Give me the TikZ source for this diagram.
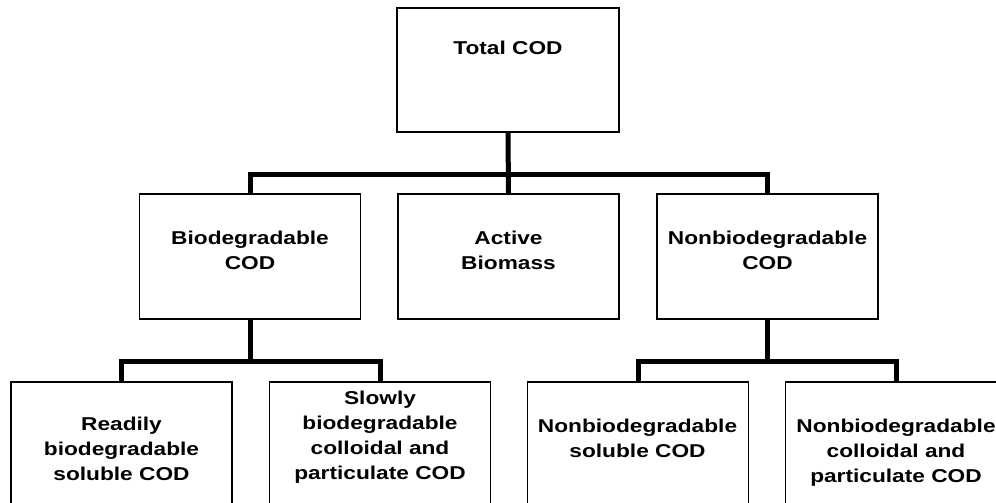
\documentclass[tikz,border=0pt]{standalone}
\usepackage{fontspec}
\setmainfont{Liberation Sans}[FakeStretch=1.22]
\begin{document}
\begin{tikzpicture}[x=1pt,y=-1pt,
  box/.style={draw=black,line width=1.6pt,rectangle,inner sep=0pt,minimum width=221pt},
  midbox/.style={box,minimum height=125pt},
  lowbox/.style={box,minimum height=148pt},
  label/.style={font=\bfseries\fontsize{18.6}{25}\selectfont,align=center,anchor=base,inner sep=0pt},
  link/.style={line width=5pt}]
\useasboundingbox (0,0) rectangle (996,503);
\clip (0,0) rectangle (996,503);

% boxes
\node[box,minimum width=222pt,minimum height=124pt] (totbox) at (508,70) {};
\node[midbox] (biobox) at (250,256.5) {};
\node[midbox] (actbox) at (508.5,256.5) {};
\node[midbox] (nonbox) at (767.5,256.5) {};
\node[lowbox] (rbsbox) at (121.5,456) {};
\node[lowbox] (sbcbox) at (380,456) {};
\node[lowbox] (nbsbox) at (638,456) {};
\node[lowbox] (nbcbox) at (896,456) {};

% labels (anchored on the baseline of their last line)
\node[label] (tot) at (508,55) {Total COD};
\node[label] (bio) at (250,269) {Biodegradable\\COD};
\node[label] (act) at (508.5,269) {Active\\Biomass};
\node[label] (non) at (767.5,269) {Nonbiodegradable\\COD};
\node[label] (rbs) at (121.5,480) {Readily\\biodegradable\\soluble COD};
\node[label] (sbc) at (380,479) {Slowly\\biodegradable\\colloidal and\\particulate COD};
\node[label] (nbs) at (637.5,457) {Nonbiodegradable\\soluble COD};
\node[label] (nbc) at (896,482) {Nonbiodegradable\\colloidal and\\particulate COD};

% junction points of the branch bars
\coordinate (j1) at (508,174.5);
\coordinate (j2) at (250,361);
\coordinate (j3) at (767.5,361);

% connectors
\draw[link] (totbox.south) -- (actbox.north);
\draw[link] (biobox.north) |- (j1) -| (nonbox.north);
\draw[link] (biobox.south) -- (j2);
\draw[link] (rbsbox.north) |- (j2) -| (sbcbox.north);
\draw[link] (nonbox.south) -- (j3);
\draw[link] (nbsbox.north) |- (j3) -| (nbcbox.north);
\end{tikzpicture}
\end{document}
